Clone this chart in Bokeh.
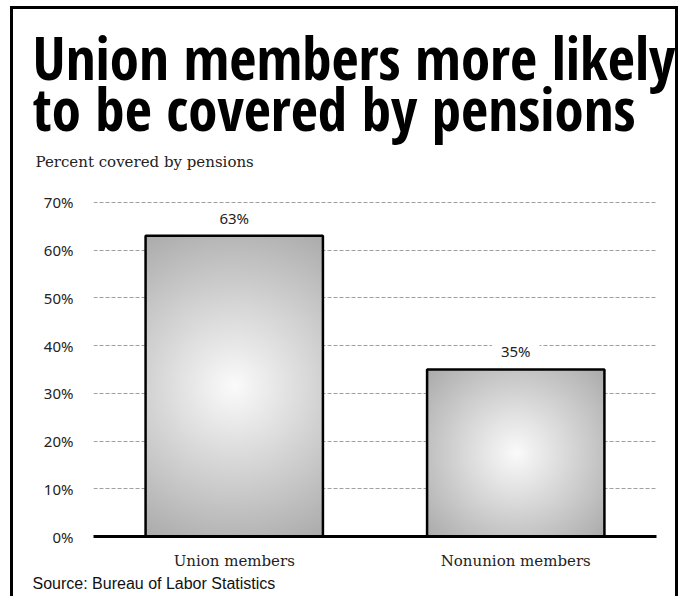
import numpy as np
from bokeh.plotting import figure
from bokeh.models import Range1d, FixedTicker, Label, Title
from bokeh.embed import file_html
from bokeh.resources import INLINE

# ---- data ----
categories = ["Union members", "Nonunion members"]
values = [63, 35]
value_labels = ["63%", "35%"]
y_ticks = [0, 10, 20, 30, 40, 50, 60, 70]
y_tick_labels = ["0%", "10%", "20%", "30%", "40%", "50%", "60%", "70%"]
title_lines = ["Union members more likely", "to be covered by pensions"]
subtitle = "Percent covered by pensions"
source = "Source: Bureau of  Labor Statistics"

# ---- layout ----
W, H = 668, 590
MB_L, MB_R, MB_T, MB_B = 80, 25, 161, 63
y_max = 76.7
bar_width = 0.63

p = figure(width=W, height=H, title=None,
           x_range=Range1d(0, len(categories)), y_range=Range1d(0, y_max),
           output_backend="svg", toolbar_location=None,
           min_border_left=MB_L, min_border_right=MB_R,
           min_border_top=MB_T, min_border_bottom=MB_B)
p.margin = (6, 0, 0, 10)
p.styles = {"border-top": "3px solid black",
            "border-left": "3px solid black",
            "border-right": "3px solid black"}
p.outline_line_color = None
p.background_fill_color = "white"
p.border_fill_color = "white"

# axes
x_centers = [i + 0.5 for i in range(len(categories))]
p.xaxis.ticker = FixedTicker(ticks=x_centers)
p.xaxis.major_label_overrides = {xc: c for xc, c in zip(x_centers, categories)}
p.xaxis.axis_line_width = 3
p.xaxis.axis_line_color = "black"
p.xaxis.major_tick_line_color = None
p.xaxis.minor_tick_line_color = None
p.xaxis.major_label_standoff = 9
p.xaxis.major_label_text_font = "DejaVu Serif"
p.xaxis.major_label_text_font_size = "15px"
p.xaxis.major_label_text_color = "#222222"

p.yaxis.ticker = FixedTicker(ticks=y_ticks)
p.yaxis.major_label_overrides = {t: l for t, l in zip(y_ticks, y_tick_labels)}
p.yaxis.axis_line_color = None
p.yaxis.major_tick_line_color = None
p.yaxis.minor_tick_line_color = None
p.yaxis.major_label_standoff = 14
p.yaxis.major_label_text_font = "Noto Sans"
p.yaxis.major_label_text_font_size = "15px"
p.yaxis.major_label_text_color = "#222222"

p.xgrid.grid_line_color = None
p.ygrid.grid_line_color = "#a0a0a0"
p.ygrid.grid_line_dash = "4 2"
p.ygrid.grid_line_width = 1

# radial gradient fill for each bar
frame_w = W - MB_L - MB_R
frame_h = H - MB_T - MB_B
px_x = frame_w / len(categories)
px_y = frame_h / y_max
imgs = []
for v in values:
    w_px = bar_width * px_x
    h_px = v * px_y
    nx = 180
    ny = max(2, int(round(nx * h_px / w_px)))
    xs = (np.arange(nx) + 0.5) / nx * w_px - w_px / 2
    ys = (np.arange(ny) + 0.5) / ny * h_px - h_px / 2
    X, Y = np.meshgrid(xs, ys)
    r = np.sqrt(X ** 2 + Y ** 2) / np.sqrt((w_px / 2) ** 2 + (h_px / 2) ** 2)
    c = np.clip(251 - 80 * r, 0, 255).astype(np.uint8)
    img = np.empty((ny, nx), dtype=np.uint32)
    view = img.view(dtype=np.uint8).reshape((ny, nx, 4))
    view[..., 0] = c
    view[..., 1] = c
    view[..., 2] = c
    view[..., 3] = 255
    imgs.append(img)

p.image_rgba(image=imgs, x=[xc - bar_width / 2 for xc in x_centers],
             y=[0] * len(values), dw=[bar_width] * len(values), dh=values)
p.vbar(x=x_centers, width=bar_width, top=values, bottom=0,
       fill_color=None, line_color="black", line_width=2.5)

for xc, v, t in zip(x_centers, values, value_labels):
    p.add_layout(Label(x=xc, y=v, text=t, text_align="center",
                       text_baseline="alphabetic", y_offset=19,
                       text_font="Noto Sans", text_font_size="15px",
                       text_color="#222222",
                       background_fill_color="white",
                       padding=(9, 9, 2, 0)))

# titles (stacked above the frame: first added is nearest)
p.add_layout(Title(text=subtitle, align="left", offset=-58, standoff=0,
                   text_font="DejaVu Serif", text_font_size="15px",
                   text_font_style="normal", text_color="#222222"), "above")
p.add_layout(Title(text=title_lines[0] + "\n" + title_lines[1],
                   align="left", offset=-61, standoff=5,
                   text_font="Open Sans Condensed", text_font_size="59px",
                   text_font_style="bold", text_color="black",
                   text_line_height=0.635), "above")
p.add_layout(Title(text=source, align="left", offset=-61, standoff=0,
                   text_font="Liberation Sans", text_font_size="16px",
                   text_font_style="normal", text_color="#111111"), "below")

open("out.html", "w").write(file_html(p, INLINE))
